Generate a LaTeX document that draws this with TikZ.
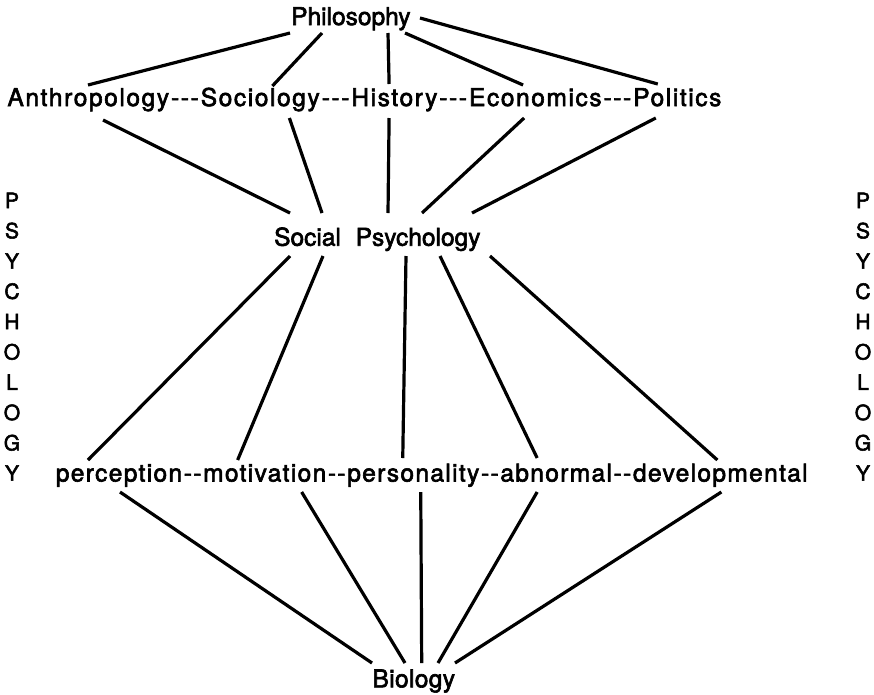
\documentclass[tikz,border=0pt]{standalone}
\usepackage{fontspec}
\setmainfont{TeX Gyre Heros}[FakeBold=2.5]
\usetikzlibrary{calc}
\tikzset{
  word/.style={anchor=base west, inner sep=0pt,
    font=\fontsize{24.5}{29}\selectfont\addfontfeatures{LetterSpace=#1}},
  word/.default=0,
  rowA/.style={word=6.5, inner xsep=0.8pt},
  rowC/.style={word=5.5, inner xsep=0.65pt},
  letter/.style={anchor=base, inner sep=0pt, font=\fontsize{21}{24}\selectfont},
  link/.style={line width=3.2pt}
}
\begin{document}
\begin{tikzpicture}[x=1pt,y=-1pt]
\useasboundingbox (0,0) rectangle (874,694);
% top
\node[word=0] (phil) at (291,25) {Philosophy};
% row 1 (uniform tracking, chained)
\node[rowA] (anth) at (6.5,106) {Anthropology};
\node[rowA] (da1) at (anth.base east) {-{}-{}-};
\node[rowA] (soc) at (da1.base east) {Sociology};
\node[rowA] (da2) at (soc.base east) {-{}-{}-};
\node[rowA] (hist) at (da2.base east) {History};
\node[rowA] (da3) at (hist.base east) {-{}-{}-};
\node[rowA] (econ) at (da3.base east) {Economics};
\node[rowA] (da4) at (econ.base east) {-{}-{}-};
\node[rowA] (pol) at (da4.base east) {Politics};
% middle
\node[word=0] (social) at (274,245.7) {Social};
\node[word=0] (psych) at (355.5,245.7) {Psychology};
% row 3 (uniform tracking, chained)
\node[rowC] (perc) at (55,481.5) {perception};
\node[rowC] (db1) at (perc.base east) {-{}-};
\node[rowC] (motiv) at (db1.base east) {motivation};
\node[rowC] (db2) at (motiv.base east) {-{}-};
\node[rowC] (pers) at (db2.base east) {personality};
\node[rowC] (db3) at (pers.base east) {-{}-};
\node[rowC] (abn) at (db3.base east) {abnormal};
\node[rowC] (db4) at (abn.base east) {-{}-};
\node[rowC] (dev) at (db4.base east) {developmental};
% bottom
\node[word=1.5] (bio) at (372.3,687.3) {Biology};
% side columns
\foreach \ch [count=\i from 0] in {P,S,Y,C,H,O,L,O,G,Y} {
  \node[letter] (lc\i) at (12,208+30.3*\i) {\ch};
  \node[letter] (rc\i) at (863,208+30.3*\i) {\ch};
}
% Philosophy to row 1
\draw[link] ($(phil.base west)+(-1,8)$) -- ($(anth.base west)+(81.5,-21)$);
\draw[link] ($(phil.base west)+(31,8)$) -- ($(soc.base west)+(72.6,-20)$);
\draw[link] ($(phil.base west)+(97,8)$) -- ($(hist.base west)+(38.7,-22)$);
\draw[link] ($(phil.base west)+(114,8)$) -- ($(econ.base west)+(55,-21)$);
\draw[link] ($(phil.base west)+(129,-7)$) -- ($(pol.base west)+(25.5,-22)$);
% row 1 to Social Psychology
\draw[link] ($(anth.base west)+(96.5,14)$) -- ($(social.base west)+(16,-32.7)$);
\draw[link] ($(soc.base west)+(89.6,12)$) -- ($(social.base west)+(48,-32.7)$);
\draw[link] ($(hist.base west)+(38.7,12)$) -- ($(psych.base west)+(32.5,-32.7)$);
\draw[link] ($(econ.base west)+(56,12)$) -- ($(psych.base west)+(66.5,-32.7)$);
\draw[link] ($(pol.base west)+(23.5,12)$) -- ($(psych.base west)+(116.5,-32.7)$);
% Social Psychology to row 3
\draw[link] ($(social.base west)+(16,10.3)$) -- ($(perc.base west)+(33,-21.5)$);
\draw[link] ($(social.base west)+(49,10.3)$) -- ($(motiv.base west)+(35.3,-21.5)$);
\draw[link] ($(psych.base west)+(50.5,10.3)$) -- ($(pers.base west)+(56.3,-23.5)$);
\draw[link] ($(psych.base west)+(84.5,10.3)$) -- ($(abn.base west)+(37.6,-23.5)$);
\draw[link] ($(psych.base west)+(134.5,10.3)$) -- ($(dev.base west)+(85.2,-21.5)$);
% row 3 to Biology
\draw[link] ($(perc.base west)+(65,10.5)$) -- ($(bio.base west)+(-0.3,-24.3)$);
\draw[link] ($(motiv.base west)+(99.3,10.5)$) -- ($(bio.base west)+(32.7,-24.3)$);
\draw[link] ($(pers.base west)+(74.3,10.5)$) -- ($(bio.base west)+(49.4,-24.3)$);
\draw[link] ($(abn.base west)+(37.6,10.5)$) -- ($(bio.base west)+(65.7,-24.3)$);
\draw[link] ($(dev.base west)+(89.2,10.5)$) -- ($(bio.base west)+(82.7,-24.3)$);
\end{tikzpicture}
\end{document}
